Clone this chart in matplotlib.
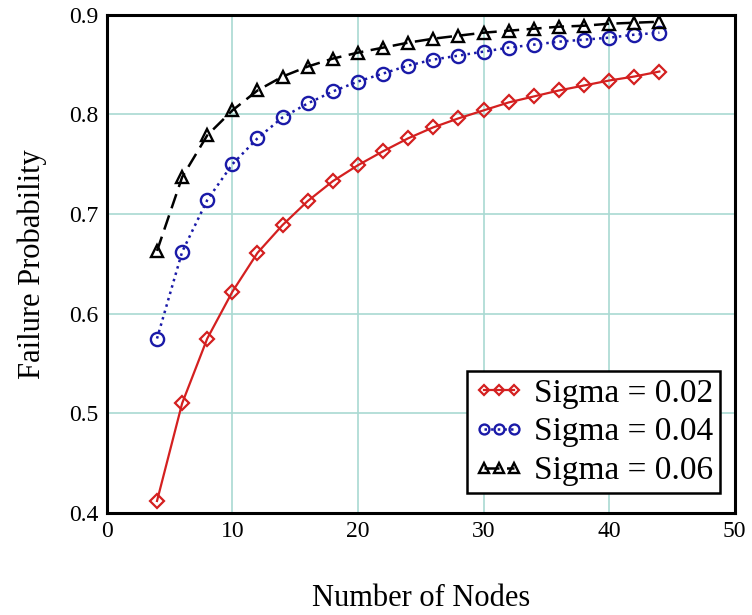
import matplotlib.pyplot as plt

# Number of nodes (x) and failure probabilities for each sigma
nodes = [4, 6, 8, 10, 12, 14, 16, 18, 20, 22, 24, 26, 28, 30, 32, 34, 36, 38, 40, 42, 44]
sigma_002 = [0.412, 0.510, 0.575, 0.622, 0.661, 0.689, 0.713, 0.733, 0.749, 0.763, 0.776,
             0.787, 0.796, 0.804, 0.812, 0.818, 0.824, 0.829, 0.834, 0.838, 0.843]
sigma_004 = [0.575, 0.662, 0.714, 0.750, 0.776, 0.797, 0.811, 0.823, 0.833, 0.841, 0.849,
             0.855, 0.859, 0.863, 0.867, 0.870, 0.873, 0.875, 0.877, 0.880, 0.882]
sigma_006 = [0.663, 0.737, 0.779, 0.804, 0.824, 0.838, 0.848, 0.856, 0.862, 0.867, 0.872,
             0.876, 0.879, 0.882, 0.884, 0.886, 0.888, 0.889, 0.891, 0.892, 0.893]
labels = ["Sigma = 0.02", "Sigma = 0.04", "Sigma = 0.06"]

plt.rcParams['font.family'] = ['Liberation Serif', 'DejaVu Serif']

fig = plt.figure(figsize=(7.52, 6.15), dpi=100)
ax = fig.add_axes([0.142, 0.166, 0.835, 0.81])

ax.plot(nodes, sigma_002, color='#d42020', linestyle='-', linewidth=1.6,
        marker='D', markersize=7, markerfacecolor='none', markeredgewidth=1.6, label=labels[0])
ax.plot(nodes, sigma_004, color='#1a1aa8', linestyle=':', linewidth=1.8,
        marker='o', markersize=9.5, markerfacecolor='none', markeredgewidth=1.7, label=labels[1])
ax.plot(nodes, sigma_006, color='black', linestyle=(0, (6, 3)), linewidth=1.8,
        marker='^', markersize=9, markerfacecolor='none', markeredgewidth=1.7, label=labels[2])

ax.set_xlim(0, 50)
ax.set_ylim(0.4, 0.9)
ax.set_xticks([0, 10, 20, 30, 40, 50])
ax.set_yticks([0.4, 0.5, 0.6, 0.7, 0.8, 0.9])
ax.grid(True, color='#a9d9d2', linewidth=1.2)
ax.set_axisbelow(True)
for s in ax.spines.values():
    s.set_linewidth(2.2)
ax.tick_params(labelsize=17, length=0, pad=6)

ax.set_xlabel("Number of Nodes", fontsize=22, labelpad=30)
ax.set_ylabel("Failure Probability", fontsize=22, labelpad=16)

leg = ax.legend(loc='lower right', fontsize=24, numpoints=3, handlelength=1.5,
                handletextpad=0.3, borderpad=0.2, labelspacing=0.25, markerscale=0.75,
                borderaxespad=0, fancybox=False, framealpha=1, bbox_to_anchor=(0.976, 0.04))
leg.get_frame().set_edgecolor('black')
leg.get_frame().set_linewidth(1.8)

fig.savefig("out.png", dpi=100)
